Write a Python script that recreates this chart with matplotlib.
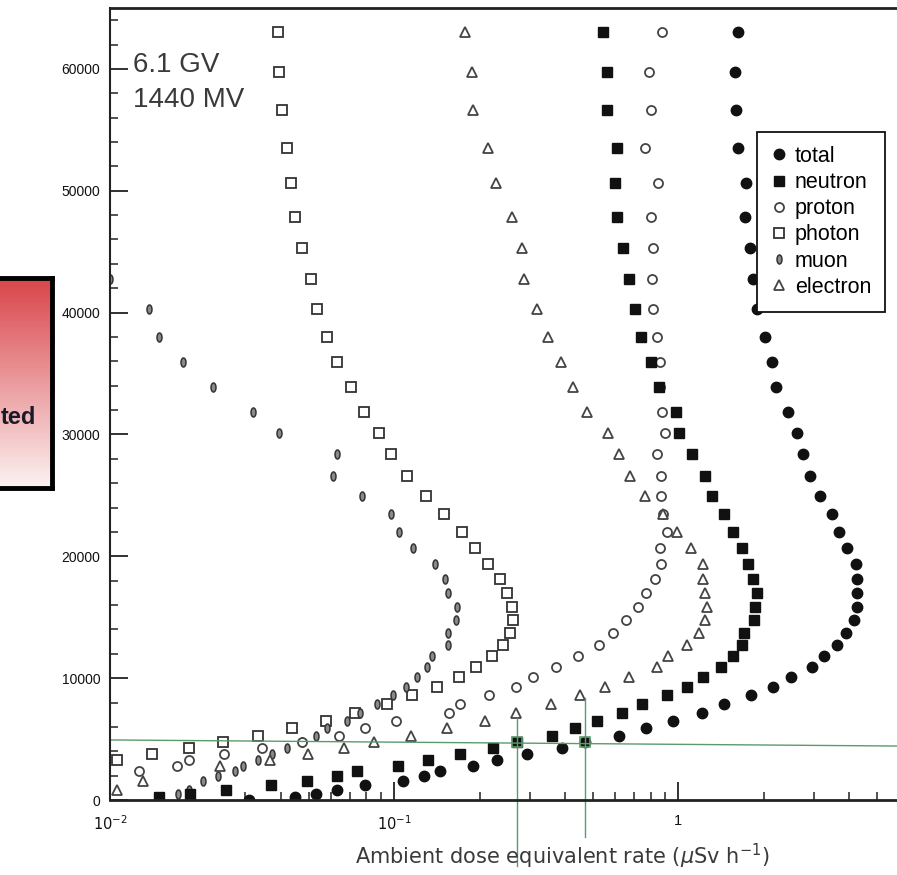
import numpy as np
import matplotlib
matplotlib.use("Agg")
import matplotlib.pyplot as plt
from matplotlib.ticker import FixedLocator, MultipleLocator, LogLocator, NullFormatter

plt.rcParams['font.family'] = ['Liberation Sans', 'DejaVu Sans']

# altitude levels (ft) shared by all components
altitude_ft = [63050, 59770, 56650, 53530, 50660, 47860, 45320, 42770, 40310, 38010,
               35960, 33910, 31850, 30130, 28410, 26600, 24960, 23480, 22000, 20690,
               19380, 18140, 17000, 15850, 14780, 13710, 12730, 11820, 10920, 10100,
               9280, 8620, 7880, 7140, 6490, 5910, 5250, 4760, 4270, 3780,
               3280, 2790, 2380, 1970, 1560, 1230, 820, 490, 250, 0]

nan = np.nan

# ambient dose equivalent rate (uSv/h) per component
total = [1.627, 1.588, 1.601, 1.627, 1.735, 1.721, 1.793, 1.837, 1.898, 2.025, 2.143, 2.214,
         2.440, 2.624, 2.755, 2.916, 3.162, 3.486, 3.689, 3.936, 4.235, 4.269, 4.269, 4.269,
         4.166, 3.904, 3.630, 3.267, 2.963, 2.500, 2.160, 1.807, 1.452, 1.215, 0.960, 0.772,
         0.620, 0.470, 0.390, 0.294, 0.2305, 0.1898, 0.1452, 0.1275, 0.1076, 0.0791, 0.0630,
         0.0531, 0.0448, 0.0309]

neutron = [0.5445, 0.5623, 0.5623, 0.6099, 0.600, 0.6099, 0.640, 0.672, 0.706, 0.741, 0.803, 0.857,
           0.984, 1.008, 1.120, 1.245, 1.317, 1.452, 1.562, 1.680, 1.764, 1.837, 1.898, 1.867,
           1.852, 1.708, 1.680, 1.562, 1.417, 1.225, 1.076, 0.915, 0.747, 0.635, 0.519, 0.434,
           0.360, 0.271, 0.223, 0.1707, 0.1317, 0.1033, 0.0741, 0.0630, 0.0494, 0.0369, 0.0256,
           0.0191, 0.0149, nan]

proton = [0.878, 0.791, 0.803, 0.765, 0.850, 0.803, 0.817, 0.810, 0.817, 0.844, 0.864, 0.864,
          0.878, 0.900, 0.844, 0.871, 0.871, 0.886, 0.915, 0.864, 0.871, 0.830, 0.772, 0.723,
          0.656, 0.590, 0.527, 0.445, 0.372, 0.3087, 0.269, 0.2160, 0.1707, 0.1562, 0.1016, 0.0791,
          0.0640, 0.0474, 0.0343, 0.0252, 0.0190, 0.0172, 0.01265, nan, nan, nan, nan,
          nan, nan, nan]

photon = [0.03903, 0.03935, 0.04032, 0.04200, 0.04338, 0.0448, 0.0474, 0.0510, 0.0536, 0.0581, 0.0630, 0.0706,
          0.0784, 0.0886, 0.0976, 0.1111, 0.1296, 0.1500, 0.1736, 0.1929, 0.2143, 0.2362, 0.2500, 0.2603,
          0.2624, 0.2562, 0.2420, 0.2214, 0.1945, 0.1693, 0.1417, 0.1157, 0.0945, 0.0729, 0.0576, 0.0437,
          0.0332, 0.0250, 0.0190, 0.01406, 0.01058, nan, nan, nan, nan, nan, nan,
          nan, nan, nan]

muon = [nan, nan, nan, nan, nan, nan, nan, 0.0100, 0.01372, 0.0149, 0.01807, 0.02305,
        0.03187, 0.03935, 0.0630, 0.0610, 0.0772, 0.0976, 0.1041, 0.1166, 0.1394, 0.1512, 0.1549, 0.1667,
        0.1653, 0.1549, 0.1549, 0.1361, 0.1307, 0.1205, 0.1102, 0.0992, 0.0871, 0.0759, 0.0683, 0.0581,
        0.0531, 0.0474, 0.0420, 0.0372, 0.0332, 0.0294, 0.02755, 0.0240, 0.02125, nan, 0.0190,
        0.01735, nan, nan]

electron = [0.1778, 0.1883, 0.1898, 0.2143, 0.2287, 0.2603, 0.2823, 0.2869, 0.3187, 0.3486, 0.3873, 0.4269,
            0.478, 0.567, 0.620, 0.678, 0.765, 0.886, 0.992, 1.111, 1.225, 1.225, 1.245, 1.265,
            1.245, 1.186, 1.076, 0.922, 0.844, 0.672, 0.553, 0.452, 0.357, 0.269, 0.2092, 0.1537,
            0.1148, 0.0850, 0.0667, 0.0498, 0.0366, 0.0244, nan, nan, 0.0131, nan, 0.01058,
            nan, nan, nan]

# green guide: neutron and total dose read at ~4760 ft
guide_alt = [4930, 4430]
guide_dose = [0.271, 0.470]
guide_top = [6730, 8370]
guide_bottom = [-5400, -3050]

x_ticks = [0.01, 0.1, 1]
x_ticklabels = ['$10^{-2}$', '$10^{-1}$', '1']
y_ticks = [0, 10000, 20000, 30000, 40000, 50000, 60000]

fig = plt.figure(figsize=(8.97, 8.75), dpi=100)
ax = fig.add_axes([0.1226, 0.0857, 0.8774, 0.9052])

theta = np.linspace(0, 2 * np.pi, 40)
muon_marker = list(zip(0.55 * np.cos(theta), np.sin(theta)))

ax.plot(photon, altitude_ft, ls='none', marker='s', ms=6.5, mfc='white', mec='#333333', mew=1.3, label='photon')
ax.plot(muon, altitude_ft, ls='none', marker=muon_marker, ms=6.5, mfc='#8a8a8a', mec='#333333', mew=1.1, label='muon')
ax.plot(proton, altitude_ft, ls='none', marker='o', ms=6.5, mfc='white', mec='#444444', mew=1.3, label='proton')
ax.plot(electron, altitude_ft, ls='none', marker='^', ms=6.5, mfc='white', mec='#444444', mew=1.3, label='electron')
ax.plot(neutron, altitude_ft, ls='none', marker='s', ms=7, color='#111111', label='neutron')
ax.plot(total, altitude_ft, ls='none', marker='o', ms=7.5, color='#111111', label='total')

# green guide lines
green = '#5b9b6b'
ax.plot([0.01, 5.9], guide_alt, color=green, lw=1)
for d, top, bot in zip(guide_dose, guide_top, guide_bottom):
    ax.plot([d, d], [top, bot], color=green, lw=1, clip_on=False)
ax.plot(guide_dose, [4760, 4760], ls='none', marker='s', ms=7, mfc='none', mec=green, mew=1.2)

ax.set_xscale('log')
ax.set_xlim(0.01, 5.9)
ax.set_ylim(0, 65000)
ax.xaxis.set_major_locator(FixedLocator(x_ticks))
ax.set_xticklabels(x_ticklabels)
ax.xaxis.set_minor_locator(LogLocator(base=10, subs=np.arange(2, 10)))
ax.xaxis.set_minor_formatter(NullFormatter())
ax.set_yticks(y_ticks)
ax.set_yticklabels([str(v) for v in y_ticks])
ax.yaxis.set_minor_locator(MultipleLocator(2000))

ax.tick_params(which='both', direction='in', top=False, right=False, colors='#222222')
ax.tick_params(which='major', length=13, width=1.3, labelsize=10, pad=7)
ax.tick_params(which='minor', length=6, width=1.1)
ax.tick_params(axis='x', which='major', pad=10, labelsize=10.5)
for lbl in ax.get_yticklabels() + ax.get_xticklabels():
    lbl.set_color('#111111')

for side in ['left', 'bottom', 'top']:
    ax.spines[side].set_color('#222222')
ax.spines['left'].set_linewidth(1.5)
ax.spines['bottom'].set_linewidth(2)
ax.spines['top'].set_linewidth(2)
ax.spines['right'].set_visible(False)

fig.text(133 / 897, 1 - 72 / 875, '6.1 GV', fontsize=20, color='#3a3a3a')
fig.text(133 / 897, 1 - 107 / 875, '1440 MV', fontsize=20, color='#3a3a3a')

fig.text(562 / 897, 1 - 864 / 875, r'Ambient dose equivalent rate ($\mu$Sv h$^{-1}$)',
         fontsize=15, color='#3a3a3a', ha='center', va='baseline', family='DejaVu Sans')

handles, labels = ax.get_legend_handles_labels()
order = ['total', 'neutron', 'proton', 'photon', 'muon', 'electron']
hmap = dict(zip(labels, handles))
leg = ax.legend([hmap[k] for k in order], order, loc='upper left',
                bbox_to_anchor=(757 / 897, 1 - 132 / 875), bbox_transform=fig.transFigure,
                borderaxespad=0, fancybox=False, framealpha=1, fontsize=15.5,
                handlelength=0.7, handletextpad=0.4, labelspacing=0.24, borderpad=0.65)
leg.get_frame().set_edgecolor('#111111')
leg.get_frame().set_linewidth(1.3)

# red gradient panel cut off on the left edge
box = fig.add_axes([-0.02, 1 - 488 / 875, 0.078, 210 / 875])
grad = np.linspace(0, 1, 200).reshape(-1, 1)
top_c = np.array([0.85, 0.27, 0.29])
bot_c = np.array([0.99, 0.95, 0.95])
img = top_c * (1 - grad[..., None]) + bot_c * grad[..., None]
box.imshow(img, aspect='auto', extent=[0, 1, 0, 1])
box.set_xticks([])
box.set_yticks([])
for s in box.spines.values():
    s.set_linewidth(3.5)
    s.set_color('black')
fig.text(36 / 897, 1 - 424 / 875, 'ted', fontsize=17, fontweight='bold', color='#1a1a2a', ha='right')

fig.savefig('out.png', dpi=100)
